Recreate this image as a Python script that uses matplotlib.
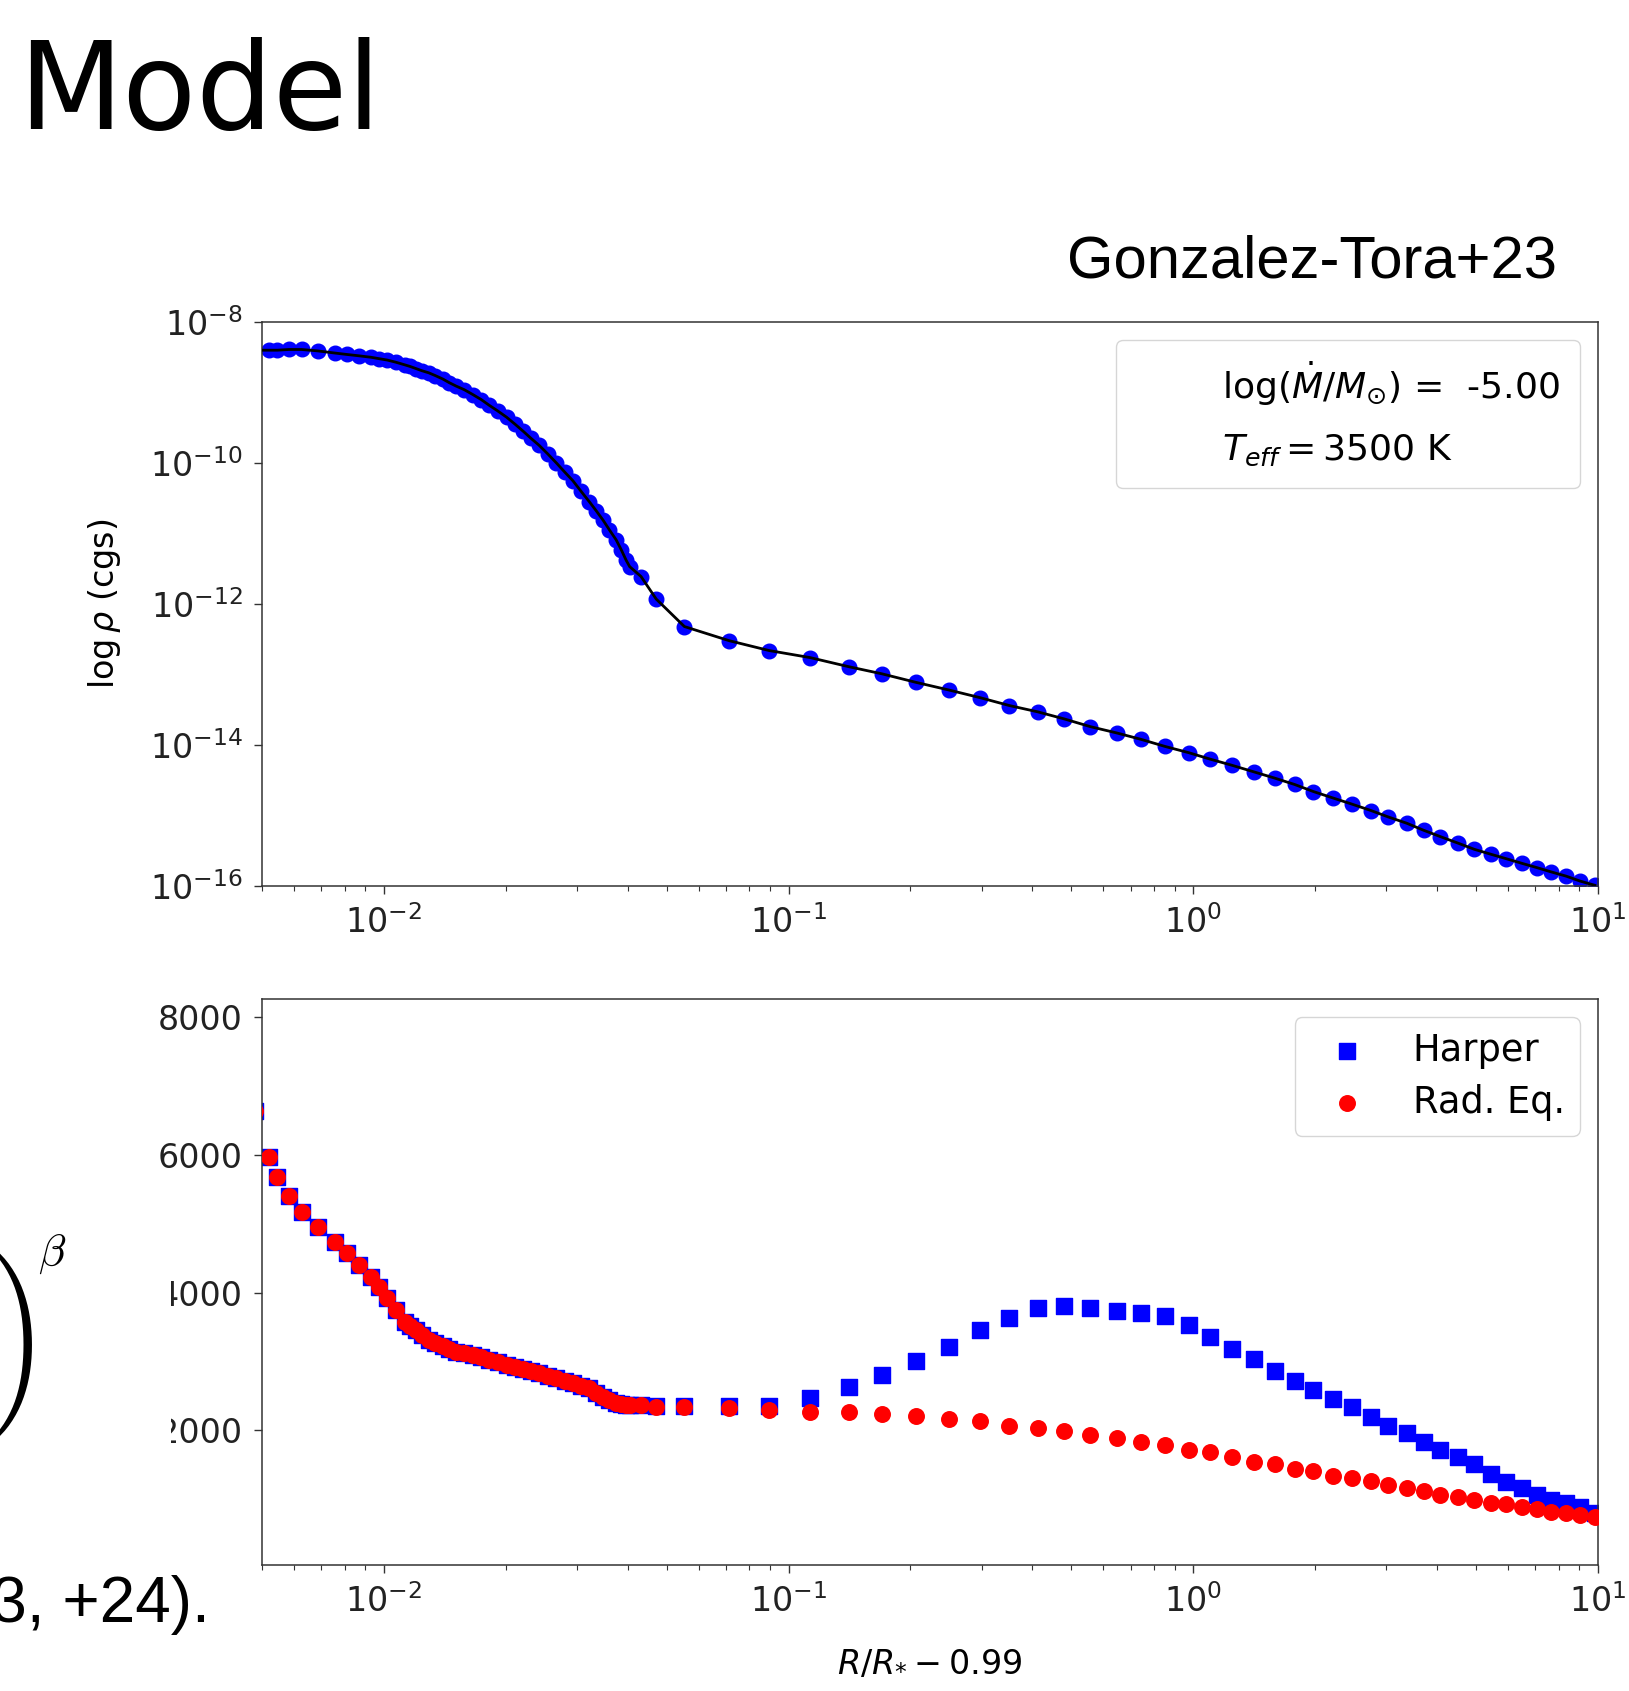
import matplotlib
matplotlib.use("Agg")
import numpy as np
import matplotlib.pyplot as plt
from matplotlib.lines import Line2D
from matplotlib.patches import Rectangle
from matplotlib.ticker import LogLocator, NullLocator, NullFormatter, FixedLocator

# R/R* - 0.99 grid (dense inner part, then the sparser wind points)
r_inner = [0.0048, 0.0052, 0.00546, 0.00583, 0.00626, 0.00687, 0.00756, 0.00809, 0.00869, 0.00929,
           0.00973, 0.0102, 0.0107, 0.0113, 0.0116, 0.0120, 0.0124, 0.0129, 0.0134, 0.0140,
           0.0145, 0.0151, 0.0158, 0.0166, 0.0174, 0.0182, 0.0191, 0.0201, 0.0211, 0.0221,
           0.0231, 0.0242, 0.0254, 0.0267, 0.0280, 0.0293, 0.0307, 0.0322, 0.0335, 0.0348,
           0.0361, 0.0375, 0.0386, 0.0397, 0.0405]
r_outer = [0.0432, 0.0471, 0.0553, 0.0713, 0.0895, 0.113, 0.141, 0.170, 0.206, 0.249,
           0.298, 0.351, 0.413, 0.480, 0.557, 0.648, 0.743, 0.851, 0.976, 1.10,
           1.25, 1.41, 1.59, 1.78, 1.98, 2.21, 2.47, 2.75, 3.03, 3.37,
           3.71, 4.08, 4.50, 4.95, 5.44, 5.91, 6.50, 7.07, 7.66, 8.34,
           9.03, 9.82]

# log10 density (cgs)
log_rho_inner = [-8.40, -8.40, -8.40, -8.39, -8.39, -8.41, -8.44, -8.46, -8.48, -8.50,
                 -8.52, -8.54, -8.57, -8.61, -8.63, -8.66, -8.69, -8.72, -8.76, -8.81,
                 -8.86, -8.91, -8.96, -9.03, -9.10, -9.18, -9.26, -9.35, -9.45, -9.55,
                 -9.65, -9.75, -9.87, -10.00, -10.13, -10.25, -10.40, -10.55, -10.68, -10.81,
                 -10.95, -11.09, -11.23, -11.38, -11.47]
log_rho_outer = [-11.61, -11.93, -12.32, -12.52, -12.66, -12.76, -12.89, -12.99, -13.11, -13.22,
                 -13.33, -13.44, -13.53, -13.63, -13.74, -13.83, -13.92, -14.02, -14.11, -14.20,
                 -14.29, -14.38, -14.47, -14.56, -14.66, -14.75, -14.84, -14.93, -15.02, -15.11,
                 -15.21, -15.30, -15.39, -15.48, -15.55, -15.61, -15.68, -15.74, -15.80, -15.86,
                 -15.93, -15.99]

# temperature (K); inner part is shared by both models
t_inner = [6640, 5967, 5685, 5409, 5168, 4959, 4741, 4572, 4402, 4233,
           4088, 3919, 3749, 3579, 3520, 3458, 3390, 3313, 3270, 3226,
           3185, 3143, 3120, 3095, 3060, 3023, 2987, 2950, 2918, 2887,
           2858, 2829, 2793, 2757, 2720, 2684, 2648, 2611, 2550, 2490,
           2445, 2402, 2385, 2369, 2369]
t_harper_outer = [2369, 2355, 2355, 2355, 2355, 2466, 2626, 2800, 3008, 3216,
                  3458, 3637, 3773, 3807, 3773, 3734, 3701, 3666, 3531, 3352,
                  3178, 3037, 2867, 2722, 2587, 2452, 2344, 2199, 2064, 1958,
                  1827, 1715, 1618, 1512, 1367, 1255, 1159, 1062, 990, 941,
                  883, 805]
t_radeq_outer = [2369, 2340, 2345, 2320, 2300, 2272, 2272, 2238, 2209, 2170,
                 2137, 2068, 2035, 1996, 1929, 1894, 1827, 1788, 1715, 1686,
                 1618, 1546, 1512, 1444, 1406, 1342, 1304, 1265, 1203, 1168,
                 1124, 1062, 1028, 990, 951, 927, 883, 854, 819, 796,
                 771, 738]

r = np.array(r_inner + r_outer)
rho = np.power(10.0, log_rho_inner + log_rho_outer)
t_harper = np.array(t_inner + t_harper_outer)
t_radeq = np.array(t_inner + t_radeq_outer)

W, H = 1629, 1691
fig = plt.figure(figsize=(W / 100, H / 100), dpi=100)


def fx(px):
    return px / W


def fy(py):
    return 1 - py / H


ax1 = fig.add_axes([fx(262), fy(886), fx(1598) - fx(262), fy(322) - fy(886)])
ax2 = fig.add_axes([fx(262), fy(1565), fx(1598) - fx(262), fy(999) - fy(1565)])

# top: density
ax1.plot(r, rho, "o", color="blue", ms=10.5, zorder=2)
ax1.plot(r, rho, "-", color="black", lw=2.0, zorder=3)
ax1.set_xscale("log")
ax1.set_yscale("log")
ax1.set_ylim(1e-16, 1e-8)
ax1.yaxis.set_major_locator(FixedLocator([1e-16, 1e-14, 1e-12, 1e-10, 1e-8]))
ax1.yaxis.set_minor_locator(NullLocator())
ax1.set_ylabel(r"$\log\rho$ (cgs)", fontsize=24)
ax1.yaxis.set_label_coords(-0.104, 0.5)

leg_handles = [Line2D([], [], ls="none"), Line2D([], [], ls="none")]
leg_labels = [r"log($\dot{M}/M_{\odot}$) =  -5.00", r"$T_{eff} = $3500 K"]
ax1.legend(leg_handles, leg_labels, loc="upper right", fontsize=26,
           labelspacing=0.68, borderpad=0.55, handlelength=1.6)

# bottom: temperature
ax2.scatter(r, t_harper, marker="s", color="blue", s=133, label="Harper", zorder=2)
ax2.scatter(r, t_radeq, marker="o", color="red", s=125, label="Rad. Eq.", zorder=3)
ax2.set_xscale("log")
ax2.set_ylim(46, 8266)
ax2.set_yticks([2000, 4000, 6000, 8000])
ax2.set_xlabel(r"$R/R_{*} - 0.99$", fontsize=24)
ax2.xaxis.set_label_coords(0.5, -0.143)
ax2.legend(loc="upper right", fontsize=26.5, labelspacing=0.4)

for ax in (ax1, ax2):
    ax.set_xlim(0.005, 10)
    ax.xaxis.set_major_locator(LogLocator(base=10, numticks=10))
    ax.xaxis.set_minor_locator(LogLocator(base=10, subs=np.arange(2, 10), numticks=20))
    ax.xaxis.set_minor_formatter(NullFormatter())
    ax.tick_params(which="major", length=6, width=1.0, pad=8, labelsize=24,
                   color="#333333", labelcolor="#222222")
    ax.tick_params(which="minor", length=3.5, width=0.8, color="#333333")
    for s in ax.spines.values():
        s.set_linewidth(1.1)
        s.set_color("#333333")

# slide text around the figure
fig.text(fx(18), fy(129), "Model", fontsize=87, family="DejaVu Sans", va="baseline")
fig.text(fx(1067), fy(277), "Gonzalez-Tora+23", fontsize=43, family="Liberation Sans",
         va="baseline")

# white text box of the slide, lying over the left edge of the lower panel
fig.add_artist(Rectangle((0, 0), fx(171), fy(1215), transform=fig.transFigure,
                         facecolor="white", edgecolor="none", zorder=5))
fig.text(fx(34), fy(1345), r"$\left(1-\dfrac{R_*}{r}\right)$", fontsize=84,
         math_fontfamily="cm", ha="right", va="center", zorder=6)
fig.text(fx(52), fy(1254), r"$\beta$", fontsize=32, math_fontfamily="cm",
         ha="center", va="center", zorder=6)
fig.text(fx(210), fy(1622), "Gonzalez-Tora+23, +24).", fontsize=46, family="Liberation Sans",
         ha="right", va="baseline", zorder=6)

fig.savefig("out.png", dpi=100)
